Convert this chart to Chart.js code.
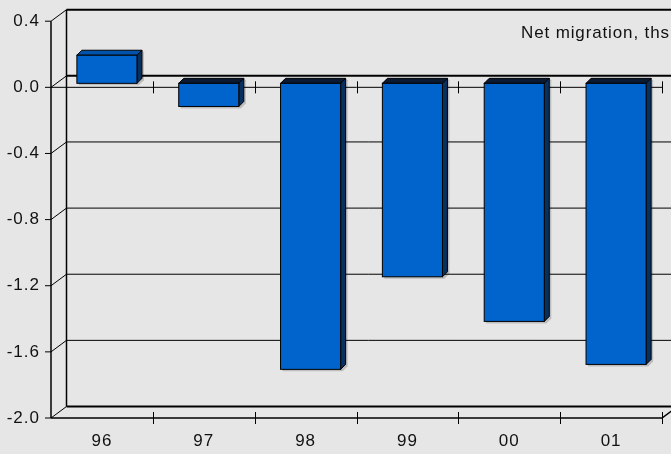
<!DOCTYPE html>
<html>
<head>
<meta charset="utf-8">
<script src="https://cdn.jsdelivr.net/npm/chart.js@4/dist/chart.umd.min.js"></script>
<style>
  html, body { margin: 0; padding: 0; background: #e6e6e6; }
  #wrap { width: 671px; height: 454px; }
</style>
</head>
<body>
<div id="wrap"><canvas id="chart" width="671" height="454"></canvas></div>
<script>
// data
const years = ['96', '97', '98', '99', '00', '01'];
const netMigration = [0.17, -0.14, -1.73, -1.17, -1.44, -1.70];
const yMin = -2.0;
const yMax = 0.4;
const yStep = 0.4;
const titleText = 'Net migration, ths';

const FONT = '"Liberation Sans", Arial, sans-serif';
const BACK = { dx: 15.5, dy: -11.5 };   // back wall offset
const FACE = { dx: 5, dy: -4 };         // bar front face offset
const DEPTH = 5;                        // bar depth

const fmt = v => (Math.abs(v) < 1e-9 ? '0.0' : v.toFixed(1));

const threeD = {
    id: 'threeD',
    beforeDraw(chart) {
        const ctx = chart.ctx;
        ctx.save();
        ctx.fillStyle = '#e6e6e6';
        ctx.fillRect(0, 0, chart.width, chart.height);
        ctx.restore();
        ctx.letterSpacing = '1px';
    },
    beforeDatasetsDraw(chart) {
        const ctx = chart.ctx;
        const { left, right, top, bottom } = chart.chartArea;
        const y = chart.scales.y;
        const W = chart.width;
        ctx.save();
        ctx.strokeStyle = '#000';

        // back wall grid lines + diagonals at each y tick
        y.ticks.forEach(t => {
            const py = y.getPixelForValue(t.value);
            const isEdge = Math.abs(t.value) < 1e-9 || t.value === yMin || t.value === yMax;
            ctx.lineWidth = isEdge ? 2 : 1;
            ctx.beginPath();
            ctx.moveTo(left + BACK.dx, py + BACK.dy);
            ctx.lineTo(W, py + BACK.dy);
            ctx.stroke();
            ctx.lineWidth = 1;
            ctx.beginPath();
            ctx.moveTo(left - 6, py);
            ctx.lineTo(left, py);
            ctx.lineTo(left + BACK.dx, py + BACK.dy);
            ctx.stroke();
        });

        // back wall left edge
        ctx.lineWidth = 1.5;
        ctx.beginPath();
        ctx.moveTo(left + BACK.dx, top + BACK.dy);
        ctx.lineTo(left + BACK.dx, bottom + BACK.dy);
        ctx.stroke();

        // front y axis
        ctx.beginPath();
        ctx.moveTo(left, top);
        ctx.lineTo(left, bottom);
        ctx.stroke();

        // front zero line with category ticks
        const zy = y.getPixelForValue(0);
        ctx.lineWidth = 1;
        ctx.beginPath();
        ctx.moveTo(left, zy);
        ctx.lineTo(right, zy);
        ctx.stroke();
        const step = (right - left) / years.length;
        for (let i = 1; i <= years.length; i++) {
            const px = Math.round(left + i * step) + 0.5;
            ctx.beginPath();
            ctx.moveTo(px, zy - 6);
            ctx.lineTo(px, zy + 6);
            ctx.stroke();
        }

        // front bottom axis with ticks
        ctx.lineWidth = 1.5;
        ctx.beginPath();
        ctx.moveTo(left, bottom);
        ctx.lineTo(right, bottom);
        ctx.lineTo(right + BACK.dx, bottom + BACK.dy);
        ctx.stroke();
        ctx.lineWidth = 1;
        for (let i = 1; i <= years.length; i++) {
            const px = Math.round(left + i * step) + 0.5;
            ctx.beginPath();
            ctx.moveTo(px, bottom - 6);
            ctx.lineTo(px, bottom + 6);
            ctx.stroke();
        }

        // title inside plot, spaced to span the same width as the original
        ctx.fillStyle = '#111';
        ctx.font = '17px ' + FONT;
        ctx.letterSpacing = '0px';
        const w0 = ctx.measureText(titleText).width;
        const sp = Math.max(0, (148 - w0) / (titleText.length - 1));
        ctx.letterSpacing = sp.toFixed(2) + 'px';
        ctx.textAlign = 'left';
        ctx.textBaseline = 'alphabetic';
        ctx.fillText(titleText, 521, 37.5);
        ctx.restore();
    },
    afterDatasetsDraw(chart) {
        const ctx = chart.ctx;
        const meta = chart.getDatasetMeta(0);
        ctx.save();
        ctx.lineJoin = 'miter';
        meta.data.forEach((el, i) => {
            const p = el.getProps(['x', 'y', 'base', 'width'], true);
            const x0 = p.x - p.width / 2 + FACE.dx;
            const x1 = p.x + p.width / 2 + FACE.dx;
            const yT = Math.min(p.y, p.base) + FACE.dy;
            const yB = Math.max(p.y, p.base) + FACE.dy;
            const d = DEPTH;

            // soft shadow
            ctx.fillStyle = 'rgba(0,0,0,0.18)';
            ctx.beginPath();
            ctx.moveTo(x0 + 2, yB);
            ctx.lineTo(x0 + 2, yB + 2);
            ctx.lineTo(x1 + 2, yB + 2);
            ctx.lineTo(x1 + d + 2, yB - d + 2);
            ctx.lineTo(x1 + d + 2, yT - d + 2);
            ctx.lineTo(x1 + d, yT - d);
            ctx.closePath();
            ctx.fill();

            ctx.strokeStyle = '#000';
            ctx.lineWidth = 1;

            // top face
            ctx.fillStyle = netMigration[i] >= 0 ? '#0052aa' : '#0b1a33';
            ctx.beginPath();
            ctx.moveTo(x0, yT);
            ctx.lineTo(x0 + d, yT - d);
            ctx.lineTo(x1 + d, yT - d);
            ctx.lineTo(x1, yT);
            ctx.closePath();
            ctx.fill();
            ctx.stroke();

            // side face
            ctx.fillStyle = '#07305f';
            ctx.beginPath();
            ctx.moveTo(x1, yT);
            ctx.lineTo(x1 + d, yT - d);
            ctx.lineTo(x1 + d, yB - d);
            ctx.lineTo(x1, yB);
            ctx.closePath();
            ctx.fill();
            ctx.stroke();

            // front face
            ctx.fillStyle = '#0163cc';
            ctx.fillRect(x0, yT, x1 - x0, yB - yT);
            ctx.strokeRect(x0, yT, x1 - x0, yB - yT);
        });
        ctx.restore();
    }
};

new Chart(document.getElementById('chart'), {
    type: 'bar',
    data: {
        labels: years,
        datasets: [{
            label: titleText,
            data: netMigration,
            backgroundColor: 'rgba(0,0,0,0)',
            borderWidth: 0,
            categoryPercentage: 1.0,
            barPercentage: 0.59
        }]
    },
    options: {
        responsive: false,
        animation: false,
        events: [],
        layout: { padding: { top: 18, right: 9, left: 0, bottom: 0 } },
        plugins: {
            legend: { display: false },
            tooltip: { enabled: false },
            title: { display: false }
        },
        scales: {
            x: {
                offset: true,
                grid: { display: false, drawTicks: false },
                border: { display: false },
                ticks: {
                    color: '#111',
                    padding: 13,
                    maxRotation: 0,
                    font: { family: FONT, size: 17 }
                },
                afterFit: s => { s.height = 36; }
            },
            y: {
                min: yMin,
                max: yMax,
                grid: { display: false, drawTicks: false },
                border: { display: false },
                ticks: {
                    stepSize: yStep,
                    color: '#111',
                    padding: 11,
                    font: { family: FONT, size: 17 },
                    callback: v => fmt(v)
                },
                afterFit: s => { s.width = 51; }
            }
        }
    },
    plugins: [threeD]
});
</script>
</body>
</html>
